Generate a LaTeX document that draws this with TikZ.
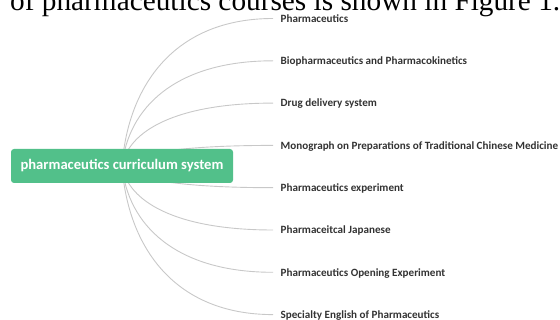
\documentclass[tikz,border=0pt]{standalone}
\usepackage{fontspec}
\setmainfont{Carlito}
\newfontfamily\captionserif{Liberation Serif}
\usetikzlibrary{backgrounds}
\definecolor{rootgreen}{HTML}{52C08A}
\definecolor{branchgray}{HTML}{C8C8C8}
\definecolor{labelgray}{HTML}{333333}
\begin{document}
\begin{tikzpicture}[x=1pt,y=-1pt,
  rootbox/.style={fill=rootgreen, rounded corners=3pt, text=white,
    font=\bfseries\fontsize{14.6}{16}\selectfont,
    minimum width=222pt, minimum height=34pt, inner sep=0pt},
  course/.style={anchor=base west, inner sep=0pt, text=labelgray,
    font=\bfseries\fontsize{11.1}{12}\selectfont},
  branch/.style={draw=branchgray, line width=0.9pt}]
\useasboundingbox (0,0) rectangle (560,320);

% running text of the page above the figure
\begin{scope}
  \clip (0,0) rectangle (560,320);
  \node[anchor=base west, inner sep=0pt,
        font=\captionserif\fontsize{29.3}{32}\selectfont] (caption) at (10,11)
    {of pharmaceutics courses is shown in Figure 1.};
\end{scope}

% root of the mind map
\node[rootbox] (root) at (122,166) {pharmaceutics curriculum system};

% course list
\foreach \i/\y/\t in {
  1/18.5/Pharmaceutics,
  2/60.8/Biopharmaceutics and Pharmacokinetics,
  3/103.1/Drug delivery system,
  4/145.4/Monograph on Preparations of Traditional Chinese Medicine,
  5/187.7/Pharmaceutics experiment,
  6/230.0/Pharmaceitcal Japanese,
  7/272.3/Pharmaceutics Opening Experiment,
  8/314.6/Specialty English of Pharmaceutics} {
  \coordinate (e\i) at (273,\y);
  \node[course] (c\i) at (280.5,\y+3.9) {\t};
}

% branches run from the root centre, behind the root box
\begin{pgfonlayer}{background}
  \foreach \i/\y in {1/18.5,2/60.8,3/103.1,4/145.4,5/187.7,6/230.0,7/272.3,8/314.6} {
    \draw[branch] (root.center) .. controls (128,{166+0.55*(\y-166)}) and (175,\y) .. (e\i);
  }
\end{pgfonlayer}
\end{tikzpicture}
\end{document}
